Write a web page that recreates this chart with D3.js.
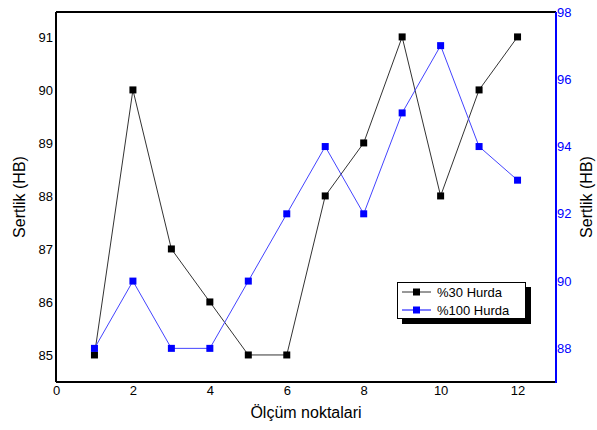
<!DOCTYPE html>
<html><head><meta charset="utf-8">
<script src="https://cdn.jsdelivr.net/npm/d3@7"></script>
<style>body{margin:0;background:#fff}svg{display:block;font-family:"Liberation Sans",Arial,sans-serif}</style>
</head><body>
<svg id="c" width="597" height="430"></svg>
<script>
const points = [1,2,3,4,5,6,7,8,9,10,11,12];
const hurda30 = [85,90,87,86,85,85,88,89,91,88,90,91];
const hurda100 = [88,90,88,88,90,92,94,92,95,97,94,93];
const xTicks = [0,2,4,6,8,10,12];
const leftTicks = [85,86,87,88,89,90,91];
const rightTicks = [88,90,92,94,96,98];
const seriesNames = ["%30 Hurda","%100 Hurda"];

const svg = d3.select("#c");
const L=56, R=556, T=12, B=382;
const fmt = d3.format("d");
const x = d3.scaleLinear().domain([0,13]).range([L,R]);
const yL = d3.scaleLinear().domain([84.49,91.47]).range([B,T]);
const yR = d3.scaleLinear().domain([87,98]).range([B,T]);

const gx = svg.append("g").attr("transform",`translate(0,${B})`)
  .call(d3.axisBottom(x).tickValues(xTicks).tickFormat(fmt).tickSize(0).tickPadding(4));
gx.select(".domain").remove();
gx.selectAll("text").attr("font-size",13).attr("fill","#000").attr("font-family","Liberation Sans, Arial");
const gl = svg.append("g").attr("transform",`translate(${L},0)`)
  .call(d3.axisLeft(yL).tickValues(leftTicks).tickFormat(fmt).tickSize(0).tickPadding(3));
gl.select(".domain").remove();
gl.selectAll("text").attr("font-size",13).attr("fill","#000").attr("font-family","Liberation Sans, Arial");
const gr = svg.append("g").attr("transform",`translate(${R},0)`)
  .call(d3.axisRight(yR).tickValues(rightTicks).tickFormat(fmt).tickSize(0).tickPadding(1));
gr.select(".domain").remove();
gr.selectAll("text").attr("font-size",13).attr("fill","#0000ff").attr("font-family","Liberation Sans, Arial");

svg.append("line").attr("x1",L).attr("x2",R).attr("y1",T).attr("y2",T).attr("stroke","#000").attr("stroke-width",2);
svg.append("line").attr("x1",L).attr("x2",L).attr("y1",T).attr("y2",B).attr("stroke","#000").attr("stroke-width",2);
svg.append("line").attr("x1",L).attr("x2",R).attr("y1",B).attr("y2",B).attr("stroke","#000").attr("stroke-width",2);
svg.append("line").attr("x1",R).attr("x2",R).attr("y1",T).attr("y2",B+1).attr("stroke","#0000ff").attr("stroke-width",2);

const ms = 7;
function drawSeries(vals, yS, color, lineColor){
  const line = d3.line().x((d,i)=>x(points[i])).y(d=>yS(d));
  svg.append("path").datum(vals).attr("d",line).attr("fill","none").attr("stroke",lineColor).attr("stroke-width",1);
  svg.selectAll(null).data(vals).enter().append("rect")
    .attr("x",(d,i)=>x(points[i])-ms/2).attr("y",d=>yS(d)-ms/2)
    .attr("width",ms).attr("height",ms).attr("fill",color);
}
drawSeries(hurda30, yL, "#000", "#333");
drawSeries(hurda100, yR, "#0000ff", "#4444ff");

svg.append("text").attr("x",(L+R)/2).attr("y",418).attr("text-anchor","middle").attr("font-size",16).text("Ölçüm noktalari");
svg.append("text").attr("transform",`translate(25,197) rotate(-90)`).attr("text-anchor","middle").attr("font-size",16).text("Sertlik (HB)");
svg.append("text").attr("transform",`translate(592,197) rotate(-90)`).attr("text-anchor","middle").attr("font-size",16).text("Sertlik (HB)");

const lg = svg.append("g");
lg.append("rect").attr("x",402).attr("y",287).attr("width",129).attr("height",37).attr("fill","#000");
lg.append("rect").attr("x",397.5).attr("y",282.5).attr("width",128).attr("height",36).attr("fill","#fff").attr("stroke","#000").attr("stroke-width",1);
const lcol = [["#333","#000"],["#0000ff","#0000ff"]];
seriesNames.forEach((n,i)=>{
  const yy = 292 + i*18;
  lg.append("line").attr("x1",402).attr("x2",431).attr("y1",yy).attr("y2",yy).attr("stroke",lcol[i][0]).attr("stroke-width",1);
  lg.append("rect").attr("x",416.5-ms/2).attr("y",yy-ms/2).attr("width",ms).attr("height",ms).attr("fill",lcol[i][1]);
  lg.append("text").attr("x",437).attr("y",yy+5).attr("font-size",13).text(n);
});
</script>
</body></html>
